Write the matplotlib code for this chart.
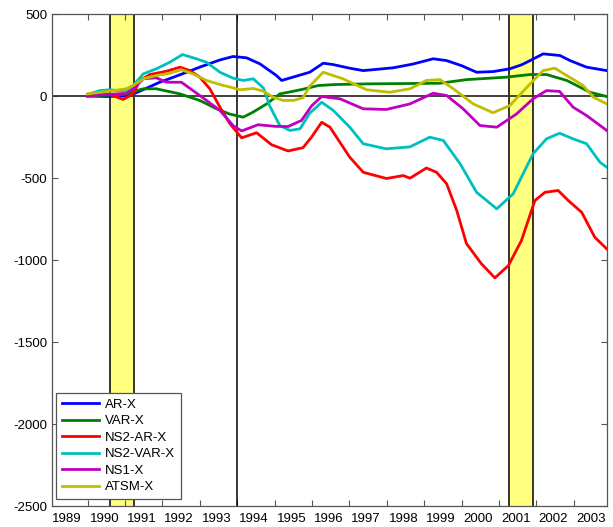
import matplotlib
matplotlib.use("Agg")
import matplotlib.pyplot as plt
import numpy as np

plt.rcParams["font.family"] = ["Liberation Sans", "DejaVu Sans"]
plt.rcParams["axes.unicode_minus"] = False

# series (x in years, y in basis points)
ar_x = [1990.0, 1990.5, 1991.0, 1991.2, 1991.5, 1991.93, 1992.3, 1992.65, 1993.0, 1993.54,
        1993.89, 1994.25, 1994.61, 1995.05, 1995.19, 1995.49, 1995.94, 1996.3, 1996.56, 1997.0,
        1997.37, 1998.17, 1998.7, 1999.24, 1999.6, 2000.0, 2000.4, 2000.84, 2001.29, 2001.6,
        2001.83, 2002.18, 2002.63, 2002.9, 2003.34, 2003.88]
ar_y = [0, -3, 0, 10, 40, 84, 115, 145, 176, 220,
        241, 233, 196, 125, 95, 115, 145, 200, 192, 170,
        155, 172, 195, 227, 216, 185, 145, 149, 166, 190,
        216, 257, 247, 216, 176, 155]

var_x = [1990.0, 1990.5, 1991.0, 1991.2, 1991.49, 1991.84, 1992.47, 1993.0, 1993.45, 1993.8,
         1994.16, 1994.42, 1994.79, 1995.14, 1995.5, 1995.81, 1996.17, 1996.61, 1997.46, 1998.5,
         1999.42, 2000.13, 2000.7, 2001.2, 2001.83, 2002.27, 2002.81, 2003.2, 2003.43, 2003.88]
var_y = [0, 5, 10, 25, 44, 44, 13, -27, -78, -110,
         -129, -99, -48, 13, 29, 44, 64, 70, 74, 76,
         78, 100, 108, 115, 131, 131, 95, 50, 23, -3]

ns2ar_x = [1990.0, 1990.3, 1990.6, 1990.95, 1991.22, 1991.4, 1991.67, 1992.11, 1992.47, 1992.74,
           1993.0, 1993.27, 1993.54, 1993.81, 1994.12, 1994.52, 1994.92, 1995.36, 1995.76, 1995.99,
           1996.26, 1996.48, 1997.01, 1997.37, 1997.99, 1998.44, 1998.62, 1999.06, 1999.33, 1999.6,
           1999.87, 2000.13, 2000.53, 2000.89, 2001.25, 2001.6, 2001.96, 2002.23, 2002.58, 2002.85,
           2003.21, 2003.56, 2003.88]
ns2ar_y = [5, 15, 10, -21, 13, 95, 131, 151, 176, 155,
           115, 44, -68, -170, -255, -224, -297, -335, -315, -250,
           -160, -190, -373, -465, -503, -485, -501, -439, -465, -535,
           -698, -900, -1023, -1109, -1034, -881, -637, -587, -576, -637,
           -709, -861, -932]

ns2var_x = [1990.0, 1990.33, 1990.6, 1990.95, 1991.22, 1991.49, 1991.84, 1992.2, 1992.54, 1992.91,
            1993.18, 1993.54, 1993.89, 1994.16, 1994.43, 1994.7, 1994.87, 1995.14, 1995.41, 1995.68,
            1995.94, 1996.26, 1996.57, 1997.01, 1997.37, 1997.99, 1998.62, 1999.15, 1999.51, 1999.96,
            2000.4, 2000.94, 2001.38, 2001.91, 2002.27, 2002.62, 2002.98, 2003.34, 2003.7, 2003.88]
ns2var_y = [10, 33, 38, 30, 64, 135, 166, 206, 253, 227,
            206, 145, 109, 95, 105, 50, -60, -180, -210, -200,
            -105, -38, -88, -190, -291, -322, -310, -251, -271, -413,
            -587, -688, -596, -352, -261, -227, -261, -291, -404, -434]

ns1_x = [1990.0, 1990.5, 1991.0, 1991.22, 1991.49, 1991.84, 1992.11, 1992.51, 1992.82, 1993.18,
         1993.54, 1993.89, 1994.12, 1994.56, 1995.01, 1995.36, 1995.72, 1995.99, 1996.26, 1996.75,
         1997.37, 1997.99, 1998.62, 1999.24, 1999.6, 2000.04, 2000.49, 2000.94, 2001.47, 2001.91,
         2002.27, 2002.62, 2002.98, 2003.34, 2003.88]
ns1_y = [0, 10, 15, 44, 105, 111, 84, 84, 33, -27,
         -88, -180, -213, -175, -185, -186, -149, -60, -3, -17,
         -78, -82, -48, 17, 3, -78, -180, -190, -109, -17,
         33, 28, -68, -119, -210]

atsm_x = [1990.0, 1990.6, 1991.04, 1991.22, 1991.49, 1991.84, 1992.2, 1992.51, 1992.82, 1993.18,
          1993.54, 1993.89, 1994.07, 1994.43, 1994.7, 1994.96, 1995.23, 1995.5, 1995.76, 1995.94,
          1996.3, 1996.83, 1997.46, 1998.08, 1998.62, 1999.06, 1999.42, 1999.78, 2000.31, 2000.84,
          2001.29, 2001.83, 2002.18, 2002.49, 2002.81, 2003.25, 2003.52, 2003.88]
atsm_y = [13, 30, 44, 64, 105, 125, 139, 160, 135, 95,
          70, 50, 38, 46, 30, -7, -27, -27, -10, 60,
          145, 105, 38, 23, 44, 95, 100, 44, -48, -102,
          -58, 74, 155, 170, 125, 64, -7, -48]

labels = ["AR-X", "VAR-X", "NS2-AR-X", "NS2-VAR-X", "NS1-X", "ATSM-X"]
colors = ["#0000ff", "#008000", "#ff0000", "#00bfbf", "#bf00bf", "#bfbf00"]

recessions = [(1990.59, 1991.24), (2001.26, 2001.92)]
marker_line = 1994.0
years = list(range(1989, 2004))

fig = plt.figure(figsize=(6.13, 5.27), dpi=100)
ax = fig.add_axes([0.0848, 0.0398, 0.905, 0.9336])

for start, end in recessions:
    ax.axvspan(start, end, facecolor="#ffff80", edgecolor="none", zorder=1)
    ax.axvline(start, color="black", lw=1.1, zorder=2)
    ax.axvline(end, color="black", lw=1.1, zorder=2)
ax.axvline(marker_line, color="black", lw=1.1, zorder=2)
ax.axhline(0, color="#333333", lw=1.3, zorder=2)

series = [(ar_x, ar_y), (var_x, var_y), (ns2ar_x, ns2ar_y),
          (ns2var_x, ns2var_y), (ns1_x, ns1_y), (atsm_x, atsm_y)]
for (x, y), lab, c in zip(series, labels, colors):
    ax.plot(x, y, color=c, lw=2.0, label=lab, zorder=3)

ax.set_xlim(1989.05, 2003.88)
ax.set_ylim(-2500, 500)
ax.set_yticks(np.arange(-2500, 501, 500))

# ticks at year boundaries, labels in the middle of each year
ax.set_xticks([y + 1 for y in years[:-1]])
ax.set_xticklabels([])
ax.set_xticks([y + 0.45 for y in years], minor=True)
ax.set_xticklabels([str(y) for y in years], minor=True)
ax.tick_params(axis="x", which="minor", length=0, pad=5)

ax.tick_params(which="major", direction="in", length=4.5, top=True, right=True,
               color="#555555", labelsize=9.5)
ax.tick_params(which="minor", labelsize=9.5)
for s in ax.spines.values():
    s.set_color("#555555")
    s.set_linewidth(0.9)

leg = ax.legend(loc="lower left", bbox_to_anchor=(0.008, 0.014), borderaxespad=0,
                fancybox=False, framealpha=1, edgecolor="#555555", fontsize=9.5,
                handlelength=2.8, labelspacing=0.32, borderpad=0.45, handletextpad=0.4)
leg.get_frame().set_linewidth(0.9)

fig.savefig("out.png", dpi=100)
